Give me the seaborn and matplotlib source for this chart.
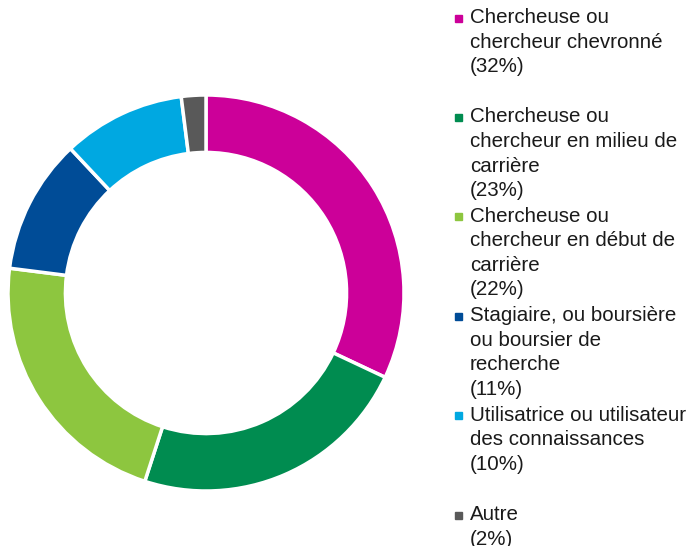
import matplotlib
matplotlib.use("Agg")
import matplotlib.pyplot as plt
from matplotlib.patches import Rectangle
import seaborn as sns

# données du graphique
categories = [
    "Chercheuse ou\nchercheur chevronné",
    "Chercheuse ou\nchercheur en milieu de\ncarrière",
    "Chercheuse ou\nchercheur en début de\ncarrière",
    "Stagiaire, ou boursière\nou boursier de\nrecherche",
    "Utilisatrice ou utilisateur\ndes connaissances",
    "Autre",
]
percents = [32, 23, 22, 11, 10, 2]
colors = ["#CC0099", "#008C50", "#8DC63F", "#004C97", "#00A8E1", "#595959"]

sns.set_style("white")
plt.rcParams["font.family"] = ["Liberation Sans", "DejaVu Sans"]

W, H = 696, 546
fig = plt.figure(figsize=(W / 100, H / 100), dpi=100)

# anneau : centre (206, 293) px, rayon 198 px
cx, cy, r = 206, 293, 198
ax = fig.add_axes([(cx - r) / W, (H - cy - r) / H, 2 * r / W, 2 * r / H])
ax.pie(percents, colors=colors, startangle=90, counterclock=False, radius=1,
       wedgeprops=dict(width=0.29, edgecolor="white", linewidth=2.5))
ax.set_xlim(-1, 1)
ax.set_ylim(-1, 1)
ax.set_aspect("equal")
ax.axis("off")

# légende manuelle, une entrée tous les ~99.5 px
for i, (lab, p, c) in enumerate(zip(categories, percents, colors)):
    y0 = 18 + i * 99.4
    fig.patches.append(Rectangle(((455) / W, 1 - (y0 + 3.5) / H), 7 / W, 7 / H,
                                 transform=fig.transFigure, color=c))
    fig.text(470 / W, 1 - (y0 - 10) / H, f"{lab}\n({p}%)", fontsize=14.8,
             va="top", ha="left", linespacing=1.37, color="#1a1a1a")

fig.savefig("out.png", dpi=100)
